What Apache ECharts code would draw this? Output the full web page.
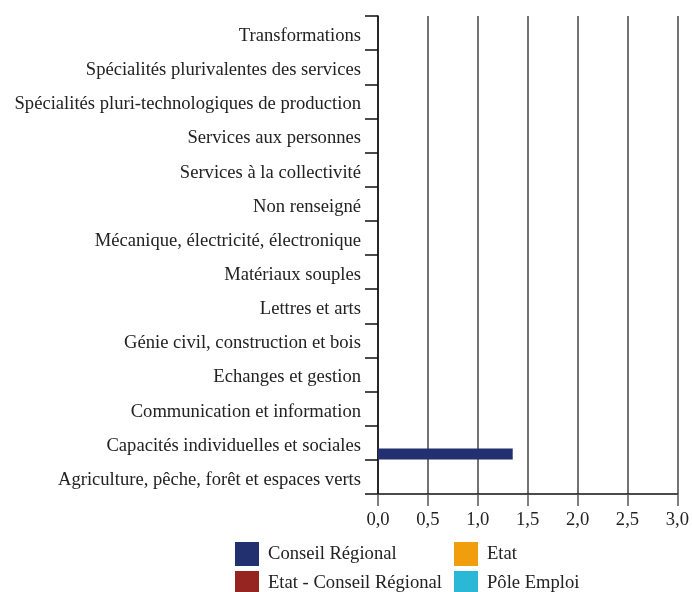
<!DOCTYPE html>
<html>
<head>
<meta charset="utf-8">
<script src="https://cdn.jsdelivr.net/npm/echarts@6/dist/echarts.min.js"></script>
<style>
  html, body { margin: 0; padding: 0; background: #fff; }
  #chart { width: 692px; height: 592px; }
</style>
</head>
<body>
<div id="chart"></div>
<script>
  // categories, bottom to top
  var categories = [
    'Agriculture, pêche, forêt et espaces verts',
    'Capacités individuelles et sociales',
    'Communication et information',
    'Echanges et gestion',
    'Génie civil, construction et bois',
    'Lettres et arts',
    'Matériaux souples',
    'Mécanique, électricité, électronique',
    'Non renseigné',
    'Services à la collectivité',
    'Services aux personnes',
    'Spécialités pluri-technologiques de production',
    'Spécialités plurivalentes des services',
    'Transformations'
  ];
  var seriesNames = ['Conseil Régional', 'Etat', 'Etat - Conseil Régional', 'Pôle Emploi'];
  var seriesColors = ['#22306f', '#f09d0e', '#962522', '#2bb7d6'];
  var conseilRegional = [null, 1.35, null, null, null, null, null, null, null, null, null, null, null, null];
  var etat = [];
  var etatConseilRegional = [];
  var poleEmploi = [];
  var seriesData = [conseilRegional, etat, etatConseilRegional, poleEmploi];

  var font = '"Liberation Serif", "DejaVu Serif", serif';
  var fs = 18.6;

  var chart = echarts.init(document.getElementById('chart'));

  // echarts puts the first series at the top of each band, so add them in reverse
  var series = seriesNames.map(function (name, i) {
    return {
      name: name,
      type: 'bar',
      data: seriesData[i],
      barWidth: 11,
      barGap: '-32%',
      itemStyle: { color: seriesColors[i] }
    };
  }).reverse();

  var legendBase = {
    orient: 'vertical',
    top: 542,
    height: 100,
    itemWidth: 24,
    itemHeight: 24,
    itemGap: 5,
    icon: 'rect',
    textStyle: { fontFamily: font, fontSize: fs, color: '#222', padding: [0, 0, 0, 4] },
    padding: 0
  };

  chart.setOption({
    animation: false,
    textStyle: { fontFamily: font },
    grid: { left: 378, right: 14, top: 16, bottom: 98, containLabel: false },
    legend: [
      Object.assign({}, legendBase, { left: 235, data: ['Conseil Régional', 'Etat - Conseil Régional'] }),
      Object.assign({}, legendBase, { left: 454, data: ['Etat', 'Pôle Emploi'] })
    ],
    xAxis: {
      type: 'value',
      min: 0,
      max: 3,
      interval: 0.5,
      axisLine: { show: true, lineStyle: { color: '#111', width: 1.5 } },
      axisTick: { show: true, length: 12, lineStyle: { color: '#555', width: 1.5 } },
      splitLine: { show: true, lineStyle: { color: '#444', width: 1.5 } },
      axisLabel: {
        fontFamily: font,
        fontSize: fs,
        color: '#222',
        margin: 17,
        formatter: function (v) { return v.toFixed(1).replace('.', ','); }
      }
    },
    yAxis: {
      type: 'category',
      data: categories,
      axisLine: { show: true, lineStyle: { color: '#111', width: 1.5 } },
      axisTick: { show: true, length: 13, lineStyle: { color: '#111', width: 1.5 } },
      axisLabel: {
        margin: 17,
        formatter: function (v) { return '{t|' + v + '}'; },
        rich: {
          t: { fontFamily: font, fontSize: fs, color: '#222', padding: [6, 0, 0, 0] }
        }
      }
    },
    series: series
  });
</script>
</body>
</html>
